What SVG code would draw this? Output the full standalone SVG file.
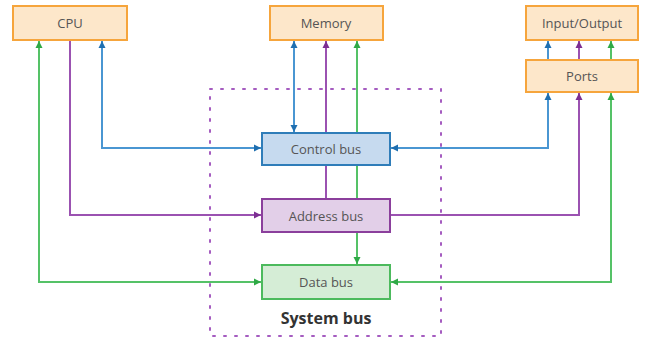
<svg xmlns="http://www.w3.org/2000/svg" width="646" height="338" viewBox="0 0 646 338">
  <defs>
    <style>
      .lbl { font-family: "Open Sans", "Liberation Sans", sans-serif; font-size: 13px; fill: #555; text-anchor: middle; dominant-baseline: central; }
      .title { font-family: "Open Sans", "Liberation Sans", sans-serif; font-size: 16px; font-weight: bold; fill: #333; text-anchor: middle; }
      .unit { fill: #fde7ca; stroke: #f6a53c; stroke-width: 2; }
      .ctl { fill: #c6daef; stroke: #2f7db9; stroke-width: 2; }
      .adr { fill: #e2cfe8; stroke: #8b3f9c; stroke-width: 2; }
      .dat { fill: #d5edd6; stroke: #4cba5d; stroke-width: 2; }
      .wb { fill: none; stroke: #4a96d2; stroke-width: 2; }
      .wp { fill: none; stroke: #9b52b1; stroke-width: 2; }
      .wg { fill: none; stroke: #55c267; stroke-width: 2; }
      .frame { fill: none; stroke: #a55cc0; stroke-width: 2; stroke-dasharray: 2 9; stroke-linecap: round; }
    </style>
    <marker id="ab" markerUnits="userSpaceOnUse" markerWidth="8" markerHeight="8" refX="7" refY="4" orient="auto-start-reverse">
      <path d="M0,0.5 L7,4 L0,7.5 Z" fill="#1f6fb0"/>
    </marker>
    <marker id="ap" markerUnits="userSpaceOnUse" markerWidth="8" markerHeight="8" refX="7" refY="4" orient="auto-start-reverse">
      <path d="M0,0.5 L7,4 L0,7.5 Z" fill="#7c2e92"/>
    </marker>
    <marker id="ag" markerUnits="userSpaceOnUse" markerWidth="8" markerHeight="8" refX="7" refY="4" orient="auto-start-reverse">
      <path d="M0,0.5 L7,4 L0,7.5 Z" fill="#2fa946"/>
    </marker>
  </defs>
  <rect width="646" height="338" fill="#fff"/>

  <!-- system bus frame -->
  <rect class="frame" x="210" y="89" width="231" height="247"/>
  <text class="title" x="326" y="324">System bus</text>

  <!-- connectors -->
  <g id="connectors">
    <!-- CPU links -->
    <path class="wb" d="M102,41 V148 H261" marker-start="url(#ab)" marker-end="url(#ab)"/>
    <path class="wp" d="M70,41 V215 H261" marker-end="url(#ap)"/>
    <path class="wg" d="M39,41 V282 H261" marker-start="url(#ag)" marker-end="url(#ag)"/>
    <!-- Memory links -->
    <path class="wp" d="M326,198 V41" marker-end="url(#ap)"/>
    <path class="wg" d="M357,41 V264" marker-start="url(#ag)" marker-end="url(#ag)"/>
    <path class="wb" d="M294,41 V132" marker-start="url(#ab)" marker-end="url(#ab)"/>
    <!-- Ports links -->
    <path class="wb" d="M391,148 H548 V93" marker-start="url(#ab)" marker-end="url(#ab)"/>
    <path class="wp" d="M391,215 H579 V93" marker-end="url(#ap)"/>
    <path class="wg" d="M391,282 H611 V93" marker-start="url(#ag)" marker-end="url(#ag)"/>
    <!-- Ports to Input/Output -->
    <path class="wb" d="M548,59 V41" marker-end="url(#ab)"/>
    <path class="wp" d="M579,59 V41" marker-end="url(#ap)"/>
    <path class="wg" d="M611,59 V41" marker-end="url(#ag)"/>
  </g>

  <g id="cpu">
    <rect class="unit" x="13" y="6" width="114" height="34"/>
    <text class="lbl" x="70" y="23">CPU</text>
  </g>
  <g id="memory">
    <rect class="unit" x="270" y="6" width="113" height="34"/>
    <text class="lbl" x="326" y="23">Memory</text>
  </g>
  <g id="io">
    <rect class="unit" x="526" y="6" width="112" height="34"/>
    <text class="lbl" x="582" y="23">Input/Output</text>
  </g>
  <g id="ports">
    <rect class="unit" x="526" y="60" width="112" height="32"/>
    <text class="lbl" x="582" y="76">Ports</text>
  </g>
  <g id="control-bus">
    <rect class="ctl" x="262" y="133" width="128" height="32"/>
    <text class="lbl" x="326" y="149">Control bus</text>
  </g>
  <g id="address-bus">
    <rect class="adr" x="262" y="199" width="128" height="33"/>
    <text class="lbl" x="326" y="215.5">Address bus</text>
  </g>
  <g id="data-bus">
    <rect class="dat" x="262" y="265" width="128" height="34"/>
    <text class="lbl" x="326" y="282">Data bus</text>
  </g>
</svg>
